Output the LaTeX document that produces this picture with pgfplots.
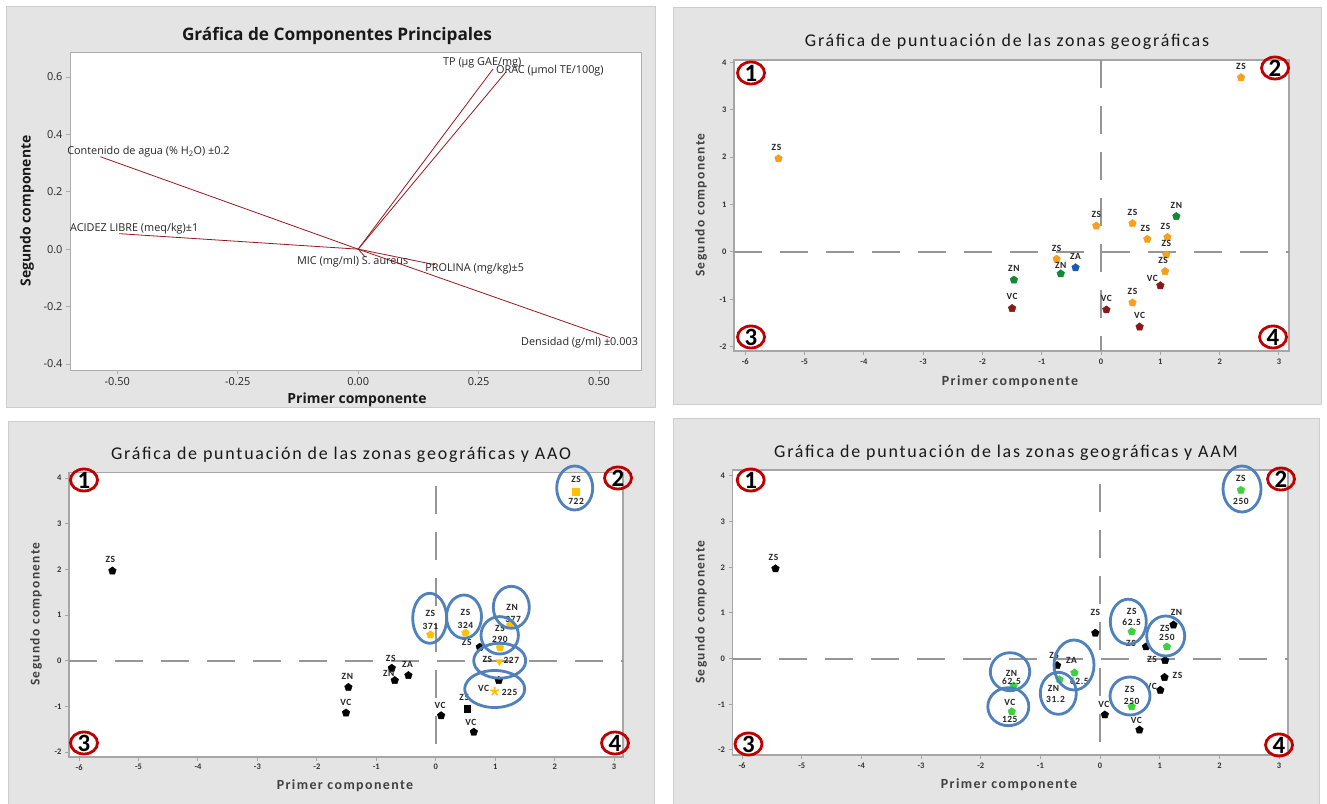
\documentclass[border=0pt]{standalone}
\usepackage{fontspec}
\setmainfont{Open Sans}
\newfontfamily\carl{Carlito}
\newfontfamily\carlsp[LetterSpace=6]{Carlito}
\newfontfamily\carlti[LetterSpace=10]{Carlito}
\usepackage{pgfplots}
\pgfplotsset{compat=1.18}
\usepackage{pgfplotstable}
\usetikzlibrary{shapes.geometric}

\definecolor{panelgray}{RGB}{228,228,228}
\definecolor{panelborder}{RGB}{205,205,205}
\definecolor{vecred}{RGB}{150,25,30}
\definecolor{zsor}{RGB}{247,160,30}
\definecolor{zngr}{RGB}{20,135,50}
\definecolor{zabl}{RGB}{25,90,175}
\definecolor{vcred}{RGB}{135,25,25}
\definecolor{aaoy}{RGB}{255,192,0}
\definecolor{aamg}{RGB}{60,210,60}
\definecolor{ellb}{RGB}{79,129,189}
\definecolor{qred}{RGB}{192,0,0}
\definecolor{dashg}{RGB}{150,150,150}

% ---------- Panel 2 data ----------
\pgfplotstableread{
x y
2.36 3.68
-5.44 1.97
-0.08 0.55
0.53 0.60
0.78 0.27
1.12 0.31
1.10 -0.06
1.08 -0.41
0.53 -1.07
-0.75 -0.15
}\pZS
\pgfplotstableread{
x y
1.27 0.75
-1.47 -0.59
-0.68 -0.46
}\pZN
\pgfplotstableread{
x y
-0.43 -0.33
}\pZA
\pgfplotstableread{
x y
-1.50 -1.19
0.09 -1.22
0.65 -1.58
1.00 -0.71
}\pVC
\pgfplotstableread{
x y dx dy lab
2.36 3.68 0 11 ZS
-5.44 1.97 -2 11 ZS
-0.08 0.55 0 11 ZS
0.53 0.60 0 11 ZS
0.78 0.27 -2 11 ZS
1.12 0.31 -2 11 ZS
1.10 -0.06 0 11 ZS
1.08 -0.41 -2 11 ZS
0.53 -1.07 0 11 ZS
-0.75 -0.15 0 11 ZS
1.27 0.75 0 11 ZN
-1.47 -0.59 0 11 ZN
-0.68 -0.46 0 8 ZN
-0.43 -0.33 0 11 ZA
-1.50 -1.19 0 12 VC
0.09 -1.22 0 11 VC
0.65 -1.58 0 11 VC
1.00 -0.71 -8 7 VC
}\lTwo

% ---------- Panel 3 data ----------
\pgfplotstableread{
x y
-5.44 1.97
-0.74 -0.16
-0.69 -0.43
-0.46 -0.32
-1.47 -0.58
-1.51 -1.14
0.09 -1.20
0.64 -1.56
0.74 0.30
1.06 -0.43
}\tBlk
\pgfplotstableread{
x y
0.53 -1.05
}\tBlkSq
\pgfplotstableread{
x y
-0.09 0.57
0.50 0.61
1.25 0.78
1.08 0.29
}\tYel
\pgfplotstableread{
x y
2.36 3.71
}\tYelSq
\pgfplotstableread{
x y
1.07 -0.02
}\tYelTri
\pgfplotstableread{
x y
0.99 -0.67
}\tYelStar
\pgfplotstableread{
x y dx dy lab
-5.44 1.97 -2 11 ZS
-0.74 -0.16 -1 10 ZS
-0.69 -0.43 -6 7 ZN
-0.46 -0.32 -1 11 ZA
-1.47 -0.58 -1 11 ZN
-1.51 -1.14 0 10 VC
0.09 -1.20 -1 10 VC
0.53 -1.05 -3 11 ZS
0.64 -1.56 -3 10 VC
0.74 0.30 -13 5 ZS
2.36 3.71 0 12 ZS
2.36 3.71 0 -10 722
-0.09 0.57 0 21 ZS
-0.09 0.57 0 8 371
0.50 0.61 0 21 ZS
0.50 0.61 0 8 324
1.25 0.78 2 18 ZN
1.25 0.78 3 6 377
1.08 0.29 0 19 ZS
1.08 0.29 0 8 290
1.07 -0.02 -12 2 ZS
1.07 -0.02 12 1 227
0.99 -0.67 -11 3 VC
0.99 -0.67 15 -1 225
}\lThree

% ---------- Panel 4 data ----------
\pgfplotstableread{
x y
-5.44 1.97
-0.08 0.56
0.77 0.26
1.23 0.74
1.09 -0.04
1.08 -0.41
1.01 -0.69
0.08 -1.23
0.66 -1.56
-0.72 -0.15
}\fBlk
\pgfplotstableread{
x y
2.36 3.69
0.53 0.59
1.12 0.26
-0.43 -0.31
-0.68 -0.46
-1.45 -0.60
-1.48 -1.16
0.53 -1.05
}\fGrn
\pgfplotstableread{
x y dx dy lab
-5.44 1.97 -2 11 ZS
-0.08 0.56 0 21 ZS
0.77 0.26 -15 3 ZS
1.23 0.74 3 12 ZN
1.09 -0.04 -13 1 ZS
1.08 -0.41 13 2 ZS
1.01 -0.69 -9 4 VC
0.08 -1.23 -1 10 VC
0.66 -1.56 -3 9 VC
-0.72 -0.15 -3 10 ZS
2.36 3.69 0 12 ZS
2.36 3.69 0 -11 250
0.53 0.59 0 20 ZS
0.53 0.59 0 9 62.5
1.12 0.26 -2 18 ZS
1.12 0.26 0 9 250
-0.43 -0.31 -3 12 ZA
-0.43 -0.31 5 -9 62.5
-0.68 -0.46 -6 -9 ZN
-0.68 -0.46 -4 -20 31.2
-1.45 -0.60 -2 13 ZN
-1.45 -0.60 -2 5 62.5
-1.48 -1.16 -2 9 VC
-1.48 -1.16 -2 -8 125
0.53 -1.05 -2 17 ZS
0.53 -1.05 0 5 250
}\lFour

\pgfplotsset{
  scorep/.style={anchor=south west, scale only axis,
    xtick={-6,-5,-4,-3,-2,-1,0,1,2,3}, ytick={-2,-1,0,1,2,3,4},
    tick pos=left, tick align=outside, major tick length=4bp,
    axis background/.style={fill=white},
    axis line style={draw=gray!70, line width=1.6bp},
    tick style={draw=gray!70, line width=1bp},
    tick label style={font=\carl\bfseries\fontsize{8.5}{8.5}\selectfont, text=black!80},
    /pgf/number format/assume math mode=true, clip=false},
  pt/.style={only marks, mark=pentagon*, mark size=4bp, mark options={solid, draw=#1, fill=#1}},
  labs/.style={only marks, mark=none, nodes near coords, point meta=explicit symbolic,
    visualization depends on={\thisrow{dx} \as \dx},
    visualization depends on={\thisrow{dy} \as \dy},
    every node near coord/.append style={anchor=center, inner sep=0pt,
      xshift=\dx bp, yshift=\dy bp,
      font=\carlsp\bfseries\fontsize{9.5}{9.5}\selectfont, text=black!85}},
  dashl/.style={dashg, line width=2bp, dash pattern=on 28bp off 18bp, forget plot}
}

\newcommand{\quadmark}[3]{%
  \draw[qred, line width=2.8bp] (#1,#2) ellipse [x radius=13.5bp, y radius=11bp];
  \node[font=\carl\bfseries\fontsize{25}{25}\selectfont, text=black, inner sep=0pt] at (#1,#2) {#3};}
\newcommand{\bell}[4]{\draw[ellb, line width=2.8bp] (#1,#2) ellipse [x radius=#3 bp, y radius=#4 bp];}

\begin{document}
\begin{tikzpicture}[x=1bp,y=1bp]
\useasboundingbox (0,0) rectangle (1327,803);
\fill[white] (0,0) rectangle (1327,803);
\filldraw[fill=panelgray, draw=panelborder, line width=1bp] (6,395) rectangle (655,796);
\filldraw[fill=panelgray, draw=panelborder, line width=1bp] (673,398) rectangle (1321,795);
\filldraw[fill=panelgray, draw=panelborder, line width=1bp] (8,-2) rectangle (654,381);
\filldraw[fill=panelgray, draw=panelborder, line width=1bp] (673,-2) rectangle (1319,384);

% ================= Panel 1 =================
\begin{axis}[at={(70bp,433bp)}, anchor=south west, scale only axis, width=571bp, height=318bp,
  xmin=-0.598, xmax=0.587, ymin=-0.421, ymax=0.687,
  xtick={-0.5,-0.25,0,0.25,0.5}, ytick={-0.4,-0.2,0,0.2,0.4,0.6},
  tick pos=left, tick align=outside, major tick length=4bp,
  axis background/.style={fill=white},
  axis line style={draw=gray!65, line width=0.8bp},
  tick style={draw=gray!65, line width=0.8bp},
  tick label style={font=\fontsize{11}{11}\selectfont, text=black!85},
  /pgf/number format/assume math mode=true,
  xticklabel style={/pgf/number format/fixed, /pgf/number format/fixed zerofill, /pgf/number format/precision=2},
  yticklabel style={/pgf/number format/fixed, /pgf/number format/fixed zerofill, /pgf/number format/precision=1},
  clip=false]
\addplot[vecred, line width=0.8bp] coordinates {(0,0) (0.280,0.628)};
\addplot[vecred, line width=0.8bp] coordinates {(0,0) (0.307,0.618)};
\addplot[vecred, line width=0.8bp] coordinates {(0,0) (-0.535,0.322)};
\addplot[vecred, line width=0.8bp] coordinates {(0,0) (-0.496,0.054)};
\addplot[vecred, line width=0.8bp] coordinates {(0,0) (0.015,-0.028)};
\addplot[vecred, line width=0.8bp] coordinates {(0,0) (0.159,-0.054)};
\addplot[vecred, line width=0.8bp] coordinates {(0,0) (0.522,-0.308)};
\begin{scope}[every node/.style={anchor=west, inner sep=0pt, font=\fontsize{10.9}{10.9}\selectfont, text=black!85}]
\node at (axis cs:0.176,0.648) {TP (µg GAE/mg)};
\node at (axis cs:0.286,0.621) {ORAC (µmol TE/100g)};
\node at (axis cs:-0.604,0.339) {Contenido de agua (\% H\textsubscript{2}O) ±0.2};
\node at (axis cs:-0.598,0.070) {ACIDEZ LIBRE (meq/kg)±1};
\node at (axis cs:-0.127,-0.045) {MIC (mg/ml) S. aureus};
\node at (axis cs:0.139,-0.069) {PROLINA (mg/kg)±5};
\node at (axis cs:0.338,-0.326) {Densidad (g/ml) ±0.003};
\end{scope}
\end{axis}
\node[font=\bfseries\fontsize{17.3}{17.3}\selectfont, text=black!90] at (337,767) {Gráfica de Componentes Principales};
\node[font=\bfseries\fontsize{14}{14}\selectfont, text=black!90] at (357,403) {Primer componente};
\node[rotate=90, font=\bfseries\fontsize{14}{14}\selectfont, text=black!90] at (27,592) {Segundo componente};

% ================= Panel 2 =================
\begin{axis}[scorep, at={(734bp,452bp)}, width=555bp, height=291bp,
  xmin=-6.19, xmax=3.17, ymin=-2.09, ymax=4.05]
\addplot[dashl] coordinates {(-6.19,0) (3.17,0)};
\addplot[dashl] coordinates {(0,4.05) (0,-2.09)};
\addplot[pt=zsor] table[x=x,y=y] {\pZS};
\addplot[pt=zngr] table[x=x,y=y] {\pZN};
\addplot[pt=zabl] table[x=x,y=y] {\pZA};
\addplot[pt=vcred] table[x=x,y=y] {\pVC};
\addplot[labs] table[x=x,y=y,meta=lab] {\lTwo};
\end{axis}
\node[font=\carlti\fontsize{18}{18}\selectfont, text=black!90] at (1007,761) {Gráfica de puntuación de las zonas geográficas};
\node[font=\carlti\bfseries\fontsize{14}{14}\selectfont, text=black!75] at (1010,421) {Primer componente};
\node[rotate=90, font=\carlti\bfseries\fontsize{13.5}{13.5}\selectfont, text=black!75] at (701,598) {Segundo componente};
\quadmark{751}{730}{1}
\quadmark{1275}{735}{2}
\quadmark{751}{466}{3}
\quadmark{1273}{466}{4}

% ================= Panel 3 =================
\begin{axis}[scorep, at={(69bp,46.3bp)}, width=554bp, height=284bp,
  xmin=-6.17, xmax=3.15, ymin=-2.10, ymax=4.12]
\addplot[dashl] coordinates {(-6.17,0) (3.15,0)};
\addplot[dashl] coordinates {(0,3.82) (0,-2.10)};
\addplot[pt=black] table[x=x,y=y] {\tBlk};
\addplot[only marks, mark=square*, mark size=3.4bp, mark options={draw=black, fill=black}] table[x=x,y=y] {\tBlkSq};
\addplot[pt=aaoy] table[x=x,y=y] {\tYel};
\addplot[only marks, mark=square*, mark size=3.4bp, mark options={draw=aaoy, fill=aaoy}] table[x=x,y=y] {\tYelSq};
\addplot[only marks, mark=triangle*, mark size=4bp, mark options={rotate=180, draw=aaoy, fill=aaoy}] table[x=x,y=y] {\tYelTri};
\addplot[only marks, mark=star, mark size=4.5bp, mark options={draw=aaoy, fill=aaoy, line width=1.8bp}] table[x=x,y=y] {\tYelStar};
\addplot[labs] table[x=x,y=y,meta=lab] {\lThree};
\end{axis}
\node[font=\carlti\fontsize{18}{18}\selectfont, text=black!90] at (341,348) {Gráfica de puntuación de las zonas geográficas y AAO};
\node[font=\carlti\bfseries\fontsize{14}{14}\selectfont, text=black!75] at (345,17) {Primer componente};
\node[rotate=90, font=\carlti\bfseries\fontsize{13.5}{13.5}\selectfont, text=black!75] at (36,189) {Segundo componente};
\quadmark{84}{323}{1}
\quadmark{618}{325}{2}
\quadmark{84}{60}{3}
\quadmark{615}{60}{4}
\bell{574.7}{315}{18}{22}
\bell{429.7}{184.7}{17}{25}
\bell{464}{186.3}{17.5}{21.7}
\bell{511.3}{195.7}{18}{21}
\bell{499.7}{167.7}{18.7}{18.7}
\bell{499.7}{142.3}{26}{17.5}
\bell{494.7}{114}{30}{18.5}

% ================= Panel 4 =================
\begin{axis}[scorep, at={(732.5bp,48bp)}, width=555.5bp, height=285bp,
  xmin=-6.16, xmax=3.15, ymin=-2.11, ymax=4.13]
\addplot[dashl] coordinates {(-6.16,0) (3.15,0)};
\addplot[dashl] coordinates {(0,3.82) (0,-2.11)};
\addplot[pt=black] table[x=x,y=y] {\fBlk};
\addplot[pt=aamg] table[x=x,y=y] {\fGrn};
\addplot[labs] table[x=x,y=y,meta=lab] {\lFour};
\end{axis}
\node[font=\carlti\fontsize{18}{18}\selectfont, text=black!90] at (1006,350) {Gráfica de puntuación de las zonas geográficas y AAM};
\node[font=\carlti\bfseries\fontsize{14}{14}\selectfont, text=black!75] at (1009,18) {Primer componente};
\node[rotate=90, font=\carlti\bfseries\fontsize{13.5}{13.5}\selectfont, text=black!75] at (701,191) {Segundo componente};
\quadmark{750.7}{323}{1}
\quadmark{1281}{324}{2}
\quadmark{748.5}{59}{3}
\quadmark{1279}{58}{4}
\bell{1242}{314}{19}{23}
\bell{1128.3}{181.3}{18}{22.5}
\bell{1165.7}{167}{19}{20}
\bell{1074}{138}{20}{25}
\bell{1058.3}{109.7}{18}{21}
\bell{1010}{131.3}{19.7}{19}
\bell{1008.3}{96.3}{20.5}{19}
\bell{1130}{107}{20}{19}
\end{tikzpicture}
\end{document}
